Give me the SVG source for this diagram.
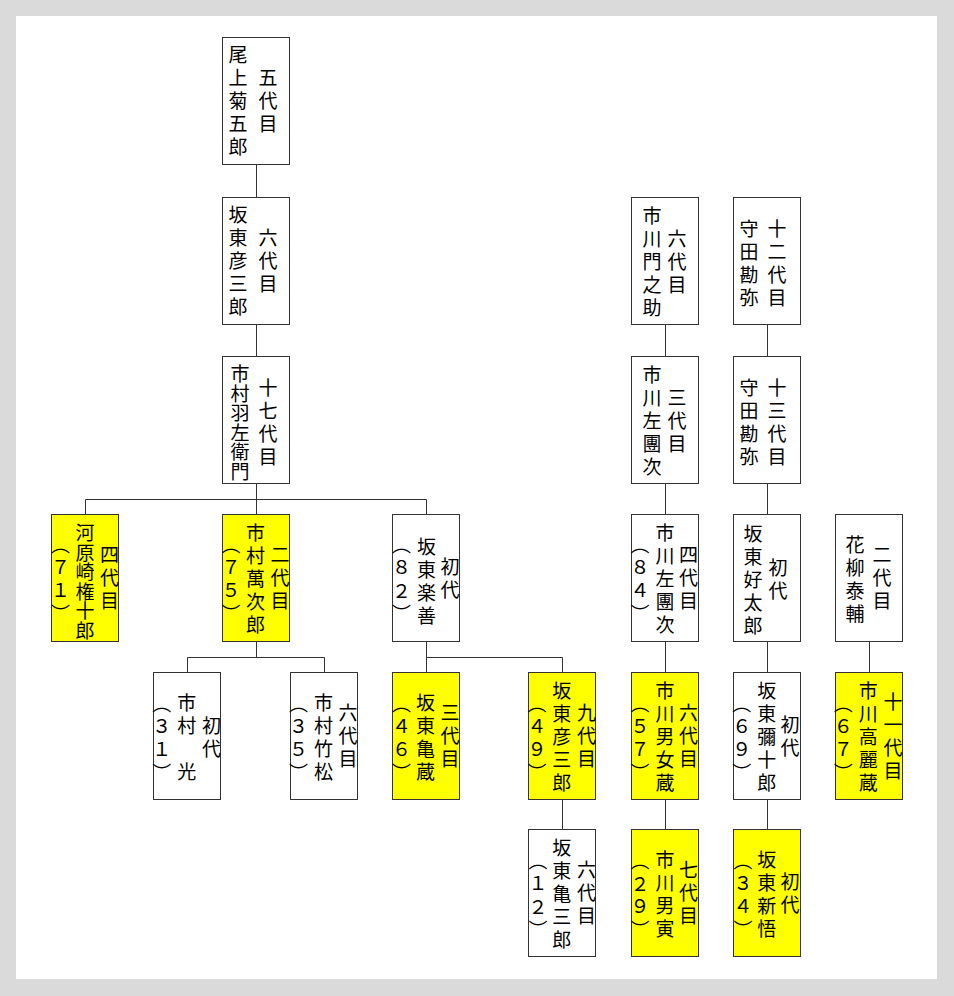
<svg xmlns="http://www.w3.org/2000/svg" width="954" height="996" viewBox="0 0 954 996">
<style>
.box{fill:#ffffff;stroke:#333333;stroke-width:1}
.yel{fill:#ffff00}
.t{font-family:"Noto Sans CJK JP","Noto Sans CJK SC",sans-serif;font-size:19px;writing-mode:vertical-rl;text-anchor:middle;fill:#000000;letter-spacing:4px}
.s6{letter-spacing:0.5px}
#connectors path{fill:none;stroke:#333333;stroke-width:1}
</style>
<rect x="0" y="0" width="954" height="996" fill="#dadada"/>
<rect x="16" y="16" width="921" height="963" fill="#ffffff"/>
<g id="connectors">
<path d="M256.5 165 V197"/>
<path d="M256.5 325 V356"/>
<path d="M256.5 484 V514"/>
<path d="M85.5 514 V499.5 H426.5 V514"/>
<path d="M256.5 642 V657.5"/>
<path d="M187.5 672 V657.5 H324.5 V672"/>
<path d="M426.5 642 V672"/>
<path d="M426.5 657.5 H562.5 V672"/>
<path d="M562.5 799 V829"/>
<path d="M665.5 325 V356"/>
<path d="M665.5 484 V514"/>
<path d="M665.5 642 V672"/>
<path d="M665.5 799 V829"/>
<path d="M767.5 325 V356"/>
<path d="M767.5 484 V514"/>
<path d="M767.5 642 V672"/>
<path d="M767.5 799 V829"/>
<path d="M869.5 642 V672"/>
</g>
<g id="n1"><rect class="box" x="222.5" y="37.5" width="67" height="127"/>
<text class="t"><tspan x="268" y="103">五代目</tspan><tspan x="238" y="103">尾上菊五郎</tspan></text></g>
<g id="n2"><rect class="box" x="222.5" y="197.5" width="67" height="127"/>
<text class="t"><tspan x="268" y="263">六代目</tspan><tspan x="238" y="263">坂東彦三郎</tspan></text></g>
<g id="n3"><rect class="box" x="222.5" y="356.5" width="67" height="127"/>
<text class="t"><tspan x="268" y="424">十七代目</tspan><tspan class="s6" x="240" y="423">市村羽左衛門</tspan></text></g>
<g id="n4"><rect class="box yel" x="51.5" y="514.5" width="67" height="127"/>
<text class="t"><tspan x="109.5" y="580">四代目</tspan><tspan class="s6" x="85" y="582">河原崎権十郎</tspan><tspan x="60.5" y="581">（７１）</tspan></text></g>
<g id="n5"><rect class="box yel" x="222.5" y="514.5" width="67" height="127"/>
<text class="t"><tspan x="280" y="580">二代目</tspan><tspan x="255.5" y="581">市村萬次郎</tspan><tspan x="231" y="581">（７５）</tspan></text></g>
<g id="n6"><rect class="box" x="392.5" y="514.5" width="67" height="127"/>
<text class="t"><tspan x="450" y="580">初代</tspan><tspan x="426.5" y="583">坂東楽善</tspan><tspan x="401.5" y="581">（８２）</tspan></text></g>
<g id="n7"><rect class="box" x="153.5" y="672.5" width="67" height="127"/>
<text class="t"><tspan x="211.5" y="739">初代</tspan><tspan x="186.7" y="739">市村　光</tspan><tspan x="161.7" y="740">（３１）</tspan></text></g>
<g id="n8"><rect class="box" x="290.5" y="672.5" width="67" height="127"/>
<text class="t"><tspan x="348" y="738">六代目</tspan><tspan x="323.5" y="739">市村竹松</tspan><tspan x="298.5" y="740">（３５）</tspan></text></g>
<g id="n9"><rect class="box yel" x="392.5" y="672.5" width="67" height="127"/>
<text class="t"><tspan x="450" y="738">三代目</tspan><tspan x="425.5" y="739">坂東亀蔵</tspan><tspan x="401.5" y="740">（４６）</tspan></text></g>
<g id="n10"><rect class="box yel" x="528.5" y="672.5" width="67" height="127"/>
<text class="t"><tspan x="586.5" y="738">九代目</tspan><tspan x="561.7" y="739">坂東彦三郎</tspan><tspan x="537" y="740">（４９）</tspan></text></g>
<g id="n11"><rect class="box" x="528.5" y="829.5" width="67" height="127"/>
<text class="t"><tspan x="586.5" y="895">六代目</tspan><tspan x="561.7" y="896">坂東亀三郎</tspan><tspan x="538" y="897">（１２）</tspan></text></g>
<g id="n12"><rect class="box" x="631.5" y="197.5" width="67" height="127"/>
<text class="t"><tspan x="677" y="264">六代目</tspan><tspan x="652" y="264">市川門之助</tspan></text></g>
<g id="n13"><rect class="box" x="631.5" y="356.5" width="67" height="127"/>
<text class="t"><tspan x="677" y="423">三代目</tspan><tspan x="652" y="423">市川左團次</tspan></text></g>
<g id="n14"><rect class="box" x="631.5" y="514.5" width="67" height="127"/>
<text class="t"><tspan x="688.5" y="580">四代目</tspan><tspan x="665" y="581">市川左團次</tspan><tspan x="640" y="581">（８４）</tspan></text></g>
<g id="n15"><rect class="box yel" x="631.5" y="672.5" width="67" height="127"/>
<text class="t"><tspan x="688.5" y="738">六代目</tspan><tspan x="665" y="739">市川男女蔵</tspan><tspan x="640" y="740">（５７）</tspan></text></g>
<g id="n16"><rect class="box yel" x="631.5" y="829.5" width="67" height="127"/>
<text class="t"><tspan x="688.5" y="895">七代目</tspan><tspan x="665" y="896">市川男寅</tspan><tspan x="640" y="897">（２９）</tspan></text></g>
<g id="n17"><rect class="box" x="733.5" y="197.5" width="67" height="127"/>
<text class="t"><tspan x="777" y="265">十二代目</tspan><tspan x="749" y="265">守田勘弥</tspan></text></g>
<g id="n18"><rect class="box" x="733.5" y="356.5" width="67" height="127"/>
<text class="t"><tspan x="777" y="424">十三代目</tspan><tspan x="749" y="424">守田勘弥</tspan></text></g>
<g id="n19"><rect class="box" x="733.5" y="514.5" width="67" height="127"/>
<text class="t"><tspan x="778" y="581">初代</tspan><tspan x="753" y="582">坂東好太郎</tspan></text></g>
<g id="n20"><rect class="box" x="733.5" y="672.5" width="67" height="127"/>
<text class="t"><tspan x="790" y="738">初代</tspan><tspan x="766.7" y="739">坂東彌十郎</tspan><tspan x="741.7" y="740">（６９）</tspan></text></g>
<g id="n21"><rect class="box yel" x="733.5" y="829.5" width="67" height="127"/>
<text class="t"><tspan x="790" y="895">初代</tspan><tspan x="766.7" y="896">坂東新悟</tspan><tspan x="743" y="897">（３４）</tspan></text></g>
<g id="n22"><rect class="box" x="835.5" y="514.5" width="67" height="127"/>
<text class="t"><tspan x="882" y="580">二代目</tspan><tspan x="855" y="581">花柳泰輔</tspan></text></g>
<g id="n23"><rect class="box yel" x="835.5" y="672.5" width="67" height="127"/>
<text class="t"><tspan x="893" y="738">十一代目</tspan><tspan x="868.3" y="739">市川高麗蔵</tspan><tspan x="843.3" y="740">（６７）</tspan></text></g>
</svg>
